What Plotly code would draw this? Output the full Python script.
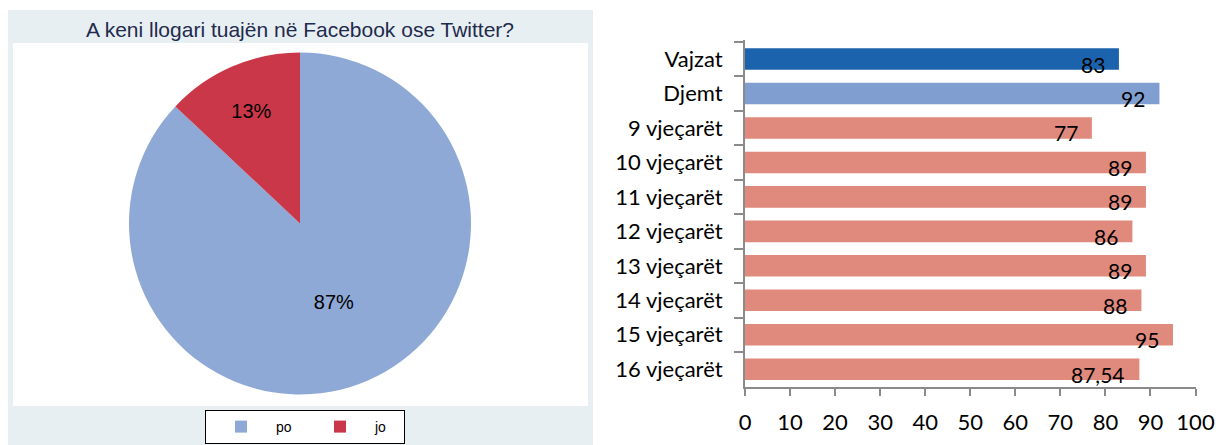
import plotly.graph_objects as go

# Pie data
pie_labels = ['po', 'jo']
pie_values = [87, 13]

# Bar data
bar_categories = ['Vajzat', 'Djemt', '9 vjeçarët', '10 vjeçarët', '11 vjeçarët',
                  '12 vjeçarët', '13 vjeçarët', '14 vjeçarët', '15 vjeçarët', '16 vjeçarët']
bar_values = [83, 92, 77, 89, 89, 86, 89, 88, 95, 87.54]
bar_text = ['83', '92', '77', '89', '89', '86', '89', '88', '95', '87,54']
x_ticks = [0, 10, 20, 30, 40, 50, 60, 70, 80, 90, 100]

W, H = 1218, 445

# colours: girls, boys, age groups
bar_colors = ['#1c63ad', '#809ecf'] + ['#e0897d'] * (len(bar_categories) - 2)


def px_x(p):
    return p / W


def px_y(p):
    return 1 - p / H


fig = go.Figure()

fig.add_trace(go.Pie(
    labels=pie_labels,
    values=pie_values,
    marker=dict(colors=['#8fa9d6', '#c93748']),
    direction='clockwise',
    sort=False,
    rotation=0,
    textinfo='percent',
    texttemplate='%{percent:.0%}',
    textposition='inside',
    insidetextorientation='horizontal',
    textfont=dict(family='Liberation Sans', size=20, color='black'),
    domain=dict(x=[px_x(129), px_x(471)], y=[px_y(395), px_y(52)]),
    hoverinfo='label+percent',
))

fig.add_trace(go.Bar(
    x=bar_values,
    y=bar_categories,
    orientation='h',
    marker=dict(color=bar_colors, line=dict(width=0)),
    showlegend=False,
    xaxis='x',
    yaxis='y',
))

# value labels sit at the bar end, a little low like the original
for cat, val, txt in zip(bar_categories, bar_values, bar_text):
    fig.add_annotation(
        x=val, y=cat, xref='x', yref='y', text=txt, showarrow=False,
        xanchor='right', yanchor='middle', xshift=-12, yshift=-5,
        font=dict(family='Lato', size=21, color='black'),
    )

# title of the left panel
fig.add_annotation(
    x=px_x(300), y=px_y(30), xref='paper', yref='paper',
    text='A keni llogari tuajën në Facebook ose Twitter?', showarrow=False,
    xanchor='center', yanchor='middle',
    font=dict(family='Liberation Sans', size=21, color='#1f2b4d'),
)

fig.update_layout(
    width=W, height=H,
    margin=dict(l=0, r=0, t=0, b=0, autoexpand=False),
    paper_bgcolor='white',
    plot_bgcolor='white',
    shapes=[
        dict(type='rect', xref='paper', yref='paper', layer='below',
             x0=px_x(8), x1=px_x(593), y0=0, y1=px_y(10),
             fillcolor='#e8eff2', line=dict(width=0)),
        dict(type='rect', xref='paper', yref='paper', layer='below',
             x0=px_x(13), x1=px_x(588), y0=px_y(406), y1=px_y(43),
             fillcolor='white', line=dict(width=0)),
    ],
    legend=dict(
        orientation='h',
        x=px_x(205), y=px_y(410), xanchor='left', yanchor='top',
        bgcolor='white', bordercolor='black', borderwidth=1,
        font=dict(family='Liberation Sans', size=14, color='black'),
        itemwidth=60,
        entrywidth=24,
    ),
    xaxis=dict(
        domain=[px_x(745), px_x(1195.5)],
        range=[0, 100],
        tickvals=x_ticks,
        showgrid=False,
        zeroline=False,
        automargin=False,
        showline=True, linecolor='#8a8a8a', linewidth=2,
        ticks='outside', ticklen=7, tickcolor='#8a8a8a', tickwidth=2,
        ticklabelstandoff=8,
        tickfont=dict(family='Lato', size=22, color='black'),
        fixedrange=True,
    ),
    yaxis=dict(
        domain=[px_y(386.5), px_y(39.5)],
        autorange='reversed',
        showgrid=False,
        automargin=False,
        showline=True, linecolor='#8a8a8a', linewidth=2,
        ticks='outside', ticklen=9, tickcolor='#8a8a8a', tickwidth=2,
        tickson='boundaries',
        ticklabelstandoff=16,
        tickfont=dict(family='Lato', size=22, color='black'),
        fixedrange=True,
    ),
    bargap=0.375,
)

fig.write_html(
    'out.html',
    config={'displayModeBar': False},
    post_script="document.body.style.margin='0';document.body.style.overflow='hidden';",
)
